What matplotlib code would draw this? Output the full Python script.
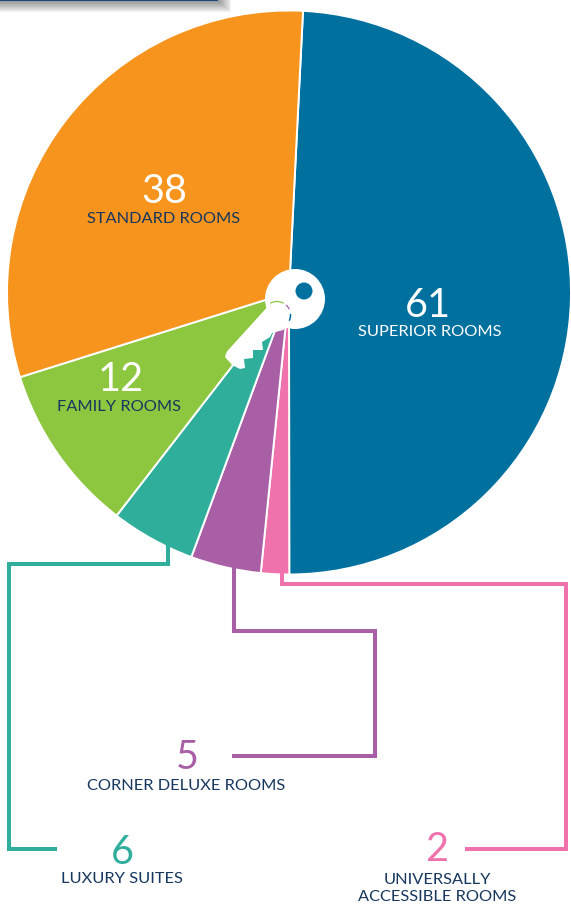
import matplotlib
matplotlib.use("Agg")
import matplotlib.pyplot as plt
from matplotlib.patches import Circle, Rectangle, Polygon, Arc

plt.rcParams['font.family'] = ['Lato', 'DejaVu Sans']

W, H = 571, 905
categories = ["SUPERIOR ROOMS", "UNIVERSALLY\nACCESSIBLE ROOMS", "CORNER DELUXE ROOMS",
              "LUXURY SUITES", "FAMILY ROOMS", "STANDARD ROOMS"]
values = [61, 2, 5, 6, 12, 38]
colors = ["#00709f", "#ef72ad", "#a95fa5", "#2fae9c", "#8dc63f", "#f7941e"]
NAVY = "#17375e"

fig = plt.figure(figsize=(W / 100, H / 100), dpi=100)
ax = fig.add_axes([0, 0, 1, 1])
Y = lambda y: H - y

ax.pie(values, colors=colors, startangle=87.15, counterclock=False,
       center=(289, Y(292.5)), radius=282, frame=True,
       wedgeprops=dict(edgecolor="white", linewidth=1.4))
ax.set_xlim(0, W)
ax.set_ylim(0, H)
ax.set_aspect("auto")
ax.axis("off")

# top banner with soft shadow
for i in range(12):
    ax.add_patch(Rectangle((-10, Y(1 + i)), 218 + i * 1.2 + 10, 20, fc="#333333", ec="none", alpha=0.055, zorder=1))
ax.add_patch(Rectangle((-10, Y(1.5)), 228, 10, fc="#1f4a7c", ec="none", zorder=2))

# connectors
lw = 2.9
def conn(xs, ys, c):
    ax.plot(xs, [Y(v) for v in ys], color=c, lw=lw, solid_joinstyle="miter",
            solid_capstyle="butt", zorder=3)
conn([168, 168, 9, 9, 57], [544, 564, 564, 849, 849], colors[3])
conn([234, 234, 375, 375, 232], [565, 631, 631, 756, 756], colors[2])
conn([282, 282, 566, 566, 465], [572, 584, 584, 849, 849], colors[1])

# key
ax.add_patch(Circle((295, Y(299)), 30, fc="white", ec="none", zorder=5))
ax.add_patch(Circle((304, Y(291)), 8.5, fc=colors[0], ec="none", zorder=6))
blade = [(226.7, 351.7), (270, 304), (275, 303), (285, 308), (290, 317), (288, 325), (283, 330),
         (272, 333), (270, 337), (262, 342), (263, 350), (253, 350), (253, 358), (244, 359),
         (245, 368), (240, 369), (232, 365), (225, 357)]
ax.add_patch(Polygon([(x, Y(y)) for x, y in blade], closed=True, fc="white", ec="none",
                     joinstyle="round", zorder=7))
for th1, th2, c, w in [(60, 120, colors[4], 0.9), (25, 48, colors[2], 0.9), (-25, 5, colors[0], 1.1)]:
    ax.add_patch(Arc((277, Y(315)), 27, 27, theta1=th1, theta2=th2, ec=c, lw=w, zorder=8))

# labels
def num(x, y, s, c):
    ax.text(x, Y(y), s, color=c, fontsize=28.5, ha="center", va="baseline", zorder=9)
def lab(x, y, s, c=NAVY):
    ax.text(x, Y(y), s, color=c, fontsize=11.8, ha="center", va="baseline", linespacing=1.25, zorder=9)

num(164, 203, str(values[5]), "white"); lab(164, 223, categories[5])
num(428, 317, str(values[0]), "white"); lab(430, 336, categories[0], "white")
num(121, 391, str(values[4]), "white"); lab(119, 411, categories[4])
num(187, 769, str(values[2]), colors[2]); lab(186, 790, categories[2])
num(122, 864, str(values[3]), colors[3]); lab(122, 883, categories[3])
num(437, 861, str(values[1]), colors[1]); lab(437, 901, categories[1])

fig.savefig("out.png", dpi=100)
